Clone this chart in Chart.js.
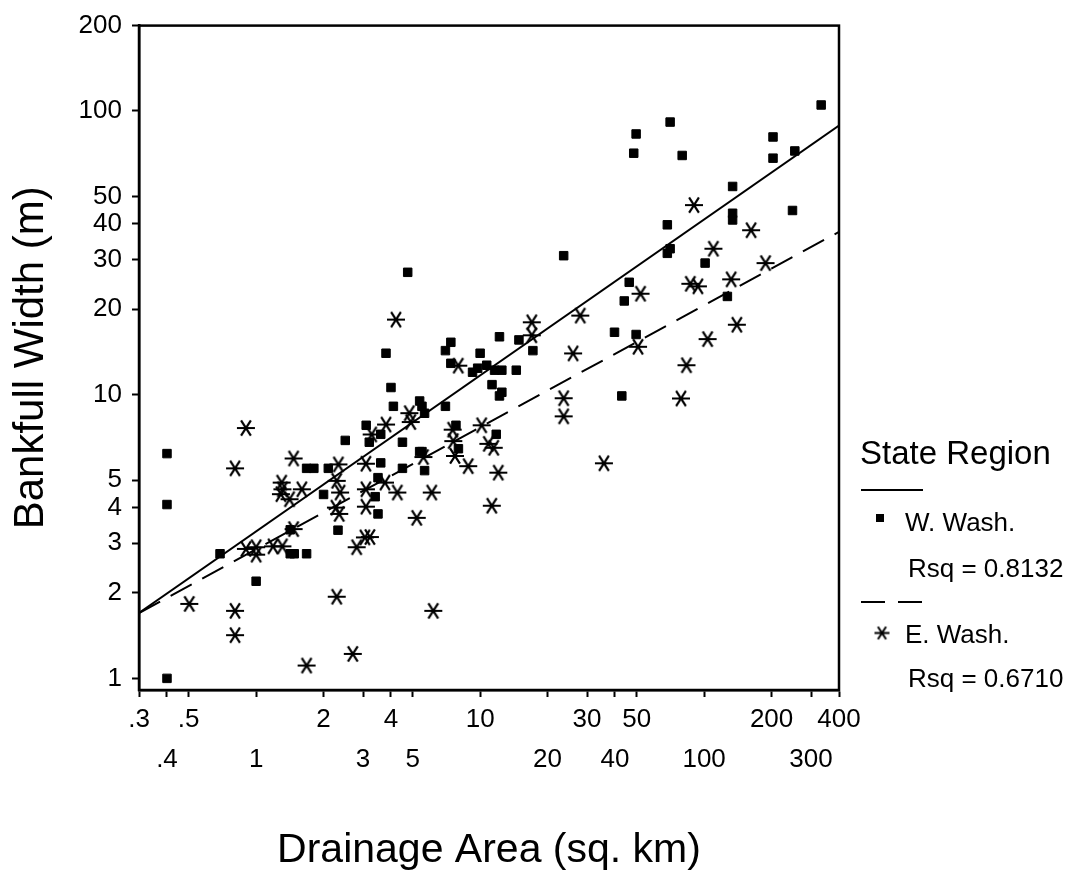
<!DOCTYPE html>
<html>
<head>
<meta charset="utf-8">
<title>Bankfull Width vs Drainage Area</title>
<script src="https://cdn.jsdelivr.net/npm/chart.js@4.4.1/dist/chart.umd.min.js"></script>
<style>
  html, body { margin: 0; padding: 0; background: #fff; }
  #wrap { width: 1068px; height: 873px; }
</style>
</head>
<body>
<div id="wrap"><canvas id="chart" width="1068" height="873"></canvas></div>
<script>
// W. Wash. sites: drainage area (sq. km) and bankfull width (m)
const westArea  = [0.40, 0.40, 0.40, 0.69, 1.0, 1.42, 1.48, 1.68, 1.68, 1.81, 2.1, 2.0, 2.32, 2.5, 3.1, 3.2, 3.6, 3.5, 3.4, 3.5,
                   3.6, 3.8, 4.0, 4.1, 4.5, 4.5, 4.75, 5.37, 5.5, 5.65, 5.37, 5.5, 5.65, 7.0, 7.4, 7.4, 7.0, 7.8, 8.0, 9.25,
                   9.75, 10.0, 10.7, 11.3, 11.6, 12.2, 12.5, 12.2, 12.5, 11.8, 14.5, 14.9, 17.2, 23.6, 39.8, 42.9, 44, 46.3, 49.7, 48.5,
                   49.7, 68.5, 68.5, 70.5, 70.5, 79.8, 101, 127, 134, 134, 134, 203, 203, 248, 254, 333, 1.42];
const westWidth = [6.2, 4.1, 1.0, 2.75, 2.2, 2.75, 2.75, 2.75, 5.5, 5.5, 5.5, 4.45, 3.33, 6.9, 7.8, 6.8, 5.75, 5.1, 4.37, 3.8,
                   7.25, 14.0, 10.6, 9.1, 6.8, 5.5, 27, 9.5, 9.1, 8.6, 6.3, 6.3, 5.4, 14.3, 15.3, 12.9, 9.1, 7.8, 6.45, 12.0,
                   12.4, 14.0, 12.7, 10.85, 12.2, 16.0, 12.2, 9.9, 10.2, 7.25, 12.2, 15.6, 14.3, 30.9, 16.6, 9.9, 21.4, 24.9, 16.3, 71,
                   83, 39.7, 31.5, 32.7, 91.4, 69.7, 29.1, 22.2, 54.2, 43.6, 41.3, 81, 68.2, 44.6, 72.3, 105, 3.34];

// E. Wash. sites
const eastArea  = [0.503, 0.805, 0.805, 0.805, 0.90, 0.90, 1.0, 1.0, 1.19, 1.31, 1.30, 1.31, 1.29, 1.41, 1.47, 1.47, 1.60, 1.68,
                   2.29, 2.33, 2.29, 2.37, 2.27, 2.35, 2.70, 2.81, 3.06, 3.22, 3.09, 3.09, 3.09, 3.80, 3.28, 3.76, 4.27, 4.83,
                   4.90, 5.21, 5.58, 6.08, 6.18, 4.21, 7.54, 7.59, 7.72, 7.99, 8.85, 10.16, 10.88, 11.5, 11.27, 12.05, 17.0, 17.0,
                   23.6, 23.6, 26.0, 28.0, 35.7, 50.7, 52.0, 78.8, 83.4, 86.8, 93.8, 90.1, 103.6, 110, 132, 140, 162, 188];
const eastWidth = [1.83, 1.73, 1.42, 5.5, 7.63, 2.86, 2.9, 2.73, 2.92, 2.92, 4.9, 4.64, 4.46, 4.28, 5.96, 3.36, 4.64, 1.11,
                   1.94, 5.68, 4.97, 4.52, 4.0, 3.8, 1.22, 2.9, 3.14, 3.15, 5.71, 4.64, 4.03, 7.85, 7.24, 4.9, 4.52, 8.61,
                   8.01, 3.68, 6.03, 4.52, 1.73, 18.4, 7.53, 6.86, 6.08, 12.66, 5.6, 7.8, 6.71, 6.5, 4.06, 5.31, 18.0, 16.2,
                   9.72, 8.39, 13.98, 19.0, 5.73, 14.75, 22.7, 9.7, 12.7, 24.6, 24.1, 46.6, 15.7, 32.7, 25.5, 17.65, 38, 29.1];

// fitted lines, read at the two ends of the x axis
const fitArea  = [0.3, 400];
const westFit  = [1.70, 88.8];
const eastFit  = [1.70, 37.5];

const regionNames = ['W. Wash.', 'E. Wash.'];
const regionRsq   = ['0.8132', '0.6710'];

const xTicks    = [0.3, 0.4, 0.5, 1, 2, 3, 4, 5, 10, 20, 30, 40, 50, 100, 200, 300, 400];
const xTickText = ['.3', '.4', '.5', '1', '2', '3', '4', '5', '10', '20', '30', '40', '50', '100', '200', '300', '400'];
const xTickRow  = [0, 1, 0, 1, 0, 1, 0, 1, 0, 1, 0, 1, 0, 1, 0, 1, 0];
const yTicks    = [1, 2, 3, 4, 5, 10, 20, 30, 40, 50, 100, 200];

const FONT = '"Liberation Sans", Arial, Helvetica, sans-serif';
Chart.defaults.font.family = FONT;
Chart.defaults.color = '#000';

// asterisk: one flat bar and two slanted bars
function makeStar(size, lw) {
    const c = document.createElement('canvas');
    c.width = size;
    c.height = size;
    const g = c.getContext('2d');
    const r = size / 2 - 1;
    g.strokeStyle = '#000';
    g.lineWidth = lw;
    g.beginPath();
    [0, 57, 123].forEach(a => {
        const t = a * Math.PI / 180;
        g.moveTo(size / 2 - r * Math.cos(t), size / 2 - r * Math.sin(t));
        g.lineTo(size / 2 + r * Math.cos(t), size / 2 + r * Math.sin(t));
    });
    g.stroke();
    return c;
}

const starMark = makeStar(20, 2.2);
const legendStar = makeStar(17, 2);

const toPoints = (xs, ys) => xs.map((x, i) => ({ x: x, y: ys[i] }));

// top and right edges of the frame
const framePlugin = {
    id: 'frame',
    afterDraw(chart) {
        const { ctx, chartArea: a } = chart;
        ctx.save();
        ctx.strokeStyle = '#000';
        ctx.lineWidth = 2.5;
        ctx.strokeRect(a.left, a.top, a.right - a.left, a.bottom - a.top);
        ctx.restore();
    }
};

const legendPlugin = {
    id: 'regionLegend',
    afterDraw(chart) {
        const ctx = chart.ctx;
        ctx.save();
        ctx.fillStyle = '#000';
        ctx.strokeStyle = '#000';
        ctx.textBaseline = 'alphabetic';
        ctx.font = '33px ' + FONT;
        ctx.fillText('State Region', 860, 464);

        ctx.lineWidth = 2;
        ctx.beginPath();
        ctx.moveTo(861, 490);
        ctx.lineTo(923, 490);
        ctx.stroke();

        ctx.fillRect(876, 514, 8, 8);
        ctx.font = '26px ' + FONT;
        ctx.fillText(regionNames[0], 905, 531);
        ctx.fillText('Rsq = ' + regionRsq[0], 908, 577);

        ctx.setLineDash([24, 13]);
        ctx.beginPath();
        ctx.moveTo(861, 602);
        ctx.lineTo(923, 602);
        ctx.stroke();
        ctx.setLineDash([]);

        ctx.drawImage(legendStar, 882 - 8.5, 633 - 8.5);
        ctx.fillText(regionNames[1], 905, 643);
        ctx.fillText('Rsq = ' + regionRsq[1], 908, 687);
        ctx.restore();
    }
};

const ctx = document.getElementById('chart').getContext('2d');
new Chart(ctx, {
    type: 'scatter',
    data: {
        datasets: [
            {
                label: regionNames[0],
                data: toPoints(westArea, westWidth),
                pointStyle: 'rect',
                pointRadius: 6,
                borderWidth: 1,
                borderColor: '#000',
                backgroundColor: '#000'
            },
            {
                label: regionNames[1],
                data: toPoints(eastArea, eastWidth),
                pointStyle: starMark,
                pointRadius: 10
            },
            {
                type: 'line',
                label: 'W fit',
                data: toPoints(fitArea, westFit),
                borderColor: '#000',
                borderWidth: 2,
                pointRadius: 0,
                fill: false
            },
            {
                type: 'line',
                label: 'E fit',
                data: toPoints(fitArea, eastFit),
                borderColor: '#000',
                borderWidth: 2,
                borderDash: [24, 12],
                pointRadius: 0,
                fill: false
            }
        ]
    },
    options: {
        responsive: false,
        devicePixelRatio: 1,
        animation: false,
        layout: { padding: { left: 0, right: 229, top: 22, bottom: 0 } },
        plugins: {
            legend: { display: false },
            tooltip: { enabled: false }
        },
        scales: {
            x: {
                type: 'logarithmic',
                min: 0.3,
                max: 400,
                afterBuildTicks: axis => { axis.ticks = xTicks.map(v => ({ value: v })); },
                afterFit: axis => { axis.height = 183; },
                grid: { drawOnChartArea: false, drawTicks: true, tickLength: 7, tickWidth: 2, tickColor: '#000' },
                border: { display: true, color: '#000', width: 2.5 },
                ticks: {
                    autoSkip: false,
                    maxRotation: 0,
                    padding: 3,
                    color: '#000',
                    font: { size: 26, lineHeight: 40 / 26 },
                    callback: (value, index) => xTickRow[index] === 0 ? [xTickText[index], ''] : ['', xTickText[index]]
                },
                title: {
                    display: true,
                    text: 'Drainage Area (sq. km)',
                    color: '#000',
                    font: { size: 41, lineHeight: 1.1 },
                    padding: { top: 0, bottom: 0 }
                }
            },
            y: {
                type: 'logarithmic',
                min: 0.91,
                max: 200,
                afterBuildTicks: axis => { axis.ticks = yTicks.map(v => ({ value: v })); },
                afterFit: axis => { axis.width = 139; },
                grid: { drawOnChartArea: false, drawTicks: true, tickLength: 7, tickWidth: 2, tickColor: '#000' },
                border: { display: true, color: '#000', width: 2.5 },
                ticks: {
                    autoSkip: false,
                    padding: 10,
                    color: '#000',
                    font: { size: 26 },
                    callback: value => String(value)
                },
                title: {
                    display: true,
                    text: 'Bankfull Width (m)',
                    color: '#000',
                    font: { size: 42, lineHeight: 1.2 },
                    padding: { top: 6, bottom: 0 }
                }
            }
        }
    },
    plugins: [framePlugin, legendPlugin]
});
</script>
</body>
</html>
